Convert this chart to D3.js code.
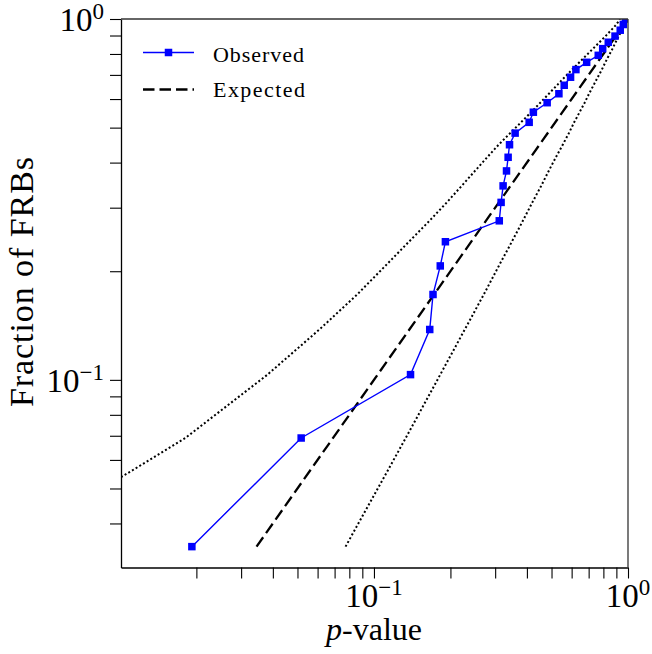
<!DOCTYPE html>
<html>
<head>
<meta charset="utf-8">
<script src="https://cdnjs.cloudflare.com/ajax/libs/d3/7.8.5/d3.min.js"></script>
<style>
  body { margin: 0; background: #fff; }
  text { font-family: "Liberation Serif", "DejaVu Serif", serif; fill: #000; }
</style>
</head>
<body>
<div id="chart"></div>
<script>
// Data: fraction of FRBs (rank / 29) vs p-value
var fractions = [0.0345, 0.069, 0.1034, 0.1379, 0.1724, 0.2069, 0.2414, 0.2759, 0.3103, 0.3448,
  0.3793, 0.4138, 0.4483, 0.4828, 0.5172, 0.5517, 0.5862, 0.6207, 0.6552, 0.6897,
  0.7241, 0.7586, 0.7931, 0.8276, 0.8621, 0.8966, 0.931, 0.9655, 1.0];

var observedP = [0.0192, 0.0517, 0.1393, 0.1658, 0.1708, 0.1824, 0.1911, 0.3114, 0.3166, 0.3224,
  0.3325, 0.3374, 0.3417, 0.3595, 0.4083, 0.4241, 0.4806, 0.5346, 0.561, 0.5942,
  0.6237, 0.6875, 0.7637, 0.795, 0.8362, 0.889, 0.932, 0.958, 0.977];

// dotted band, left (upper) edge
var bandLeft = [0.0036, 0.0181, 0.0381, 0.061, 0.0859, 0.1108, 0.1373, 0.1654, 0.1936, 0.2215,
  0.2498, 0.2791, 0.3095, 0.3438, 0.3793, 0.4156, 0.4516, 0.4882, 0.5254, 0.563,
  0.6026, 0.6437, 0.6855, 0.7284, 0.7721, 0.816, 0.858, 0.9, 0.93];

// dotted band, right (lower) edge
var bandRight = [0.0773, 0.1334, 0.1824, 0.2278, 0.2706, 0.3101, 0.3489, 0.3856, 0.4202, 0.4553,
  0.4874, 0.5201, 0.5534, 0.5853, 0.6138, 0.6449, 0.6751, 0.7025, 0.7318, 0.7603,
  0.789, 0.8145, 0.8415, 0.8696, 0.8935, 0.9199, 0.9469, 0.9731, 1.0];

var expectedX = [0.0345, 1];
var expectedY = [0.0345, 1];

var xTicks = [0.02, 0.03, 0.04, 0.05, 0.06, 0.07, 0.08, 0.09, 0.1, 0.2, 0.3, 0.4, 0.5, 0.6, 0.7, 0.8, 0.9, 1];
var yTicks = [0.04, 0.05, 0.06, 0.07, 0.08, 0.09, 0.1, 0.2, 0.3, 0.4, 0.5, 0.6, 0.7, 0.8, 0.9, 1];
var xLabels = [{ v: 0.1, exp: "\u22121" }, { v: 1, exp: "0" }];
var yLabels = [{ v: 0.1, exp: "\u22121" }, { v: 1, exp: "0" }];

function powerLabel(g, x, y, exp, anchor) {
  var t = g.append("text")
    .attr("x", x)
    .attr("y", y)
    .attr("text-anchor", anchor)
    .style("font-size", "33px");
  t.append("tspan").text("10");
  t.append("tspan")
    .attr("dy", -12)
    .style("font-size", "23px")
    .text(exp);
}

function drawSvg() {
  var width = 652;
  var height = 654;
  var left = 121, right = 628, top = 19, bottom = 567.5;

  var xScale = d3.scaleLog()
    .domain([0.0101, 1])
    .range([left, right]);

  var yScale = d3.scaleLog()
    .domain([0.0302, 1])
    .range([bottom, top]);

  var svg = d3.select("#chart")
    .append("svg")
    .attr("width", width)
    .attr("height", height);

  svg.append("clipPath")
    .attr("id", "plot-clip")
    .append("rect")
    .attr("x", left)
    .attr("y", top)
    .attr("width", right - left)
    .attr("height", bottom - top);

  var plot = svg.append("g").attr("clip-path", "url(#plot-clip)");

  var line = d3.line()
    .x(d => xScale(d[0]))
    .y(d => yScale(d[1]));

  // confidence band (dotted)
  [bandLeft, bandRight].forEach(function(band) {
    plot.append("path")
      .datum(band.map((p, i) => [p, fractions[i]]))
      .attr("d", line)
      .attr("fill", "none")
      .attr("stroke", "#000")
      .attr("stroke-width", 2)
      .attr("stroke-dasharray", "2,2.3");
  });

  // expected
  plot.append("path")
    .datum(expectedX.map((p, i) => [p, expectedY[i]]))
    .attr("d", line)
    .attr("fill", "none")
    .attr("stroke", "#000")
    .attr("stroke-width", 2.3)
    .attr("stroke-dasharray", "11.5,5");

  // observed
  var observed = observedP.map((p, i) => [p, fractions[i]]);
  plot.append("path")
    .datum(observed)
    .attr("d", line)
    .attr("fill", "none")
    .attr("stroke", "#0000ff")
    .attr("stroke-width", 1.4);

  plot.selectAll("rect.obs")
    .data(observed)
    .enter()
    .append("rect")
    .attr("class", "obs")
    .attr("x", d => xScale(d[0]) - 3.75)
    .attr("y", d => yScale(d[1]) - 3.75)
    .attr("width", 7.5)
    .attr("height", 7.5)
    .attr("fill", "#0000ff");

  // axes
  var xAxis = d3.axisBottom(xScale)
    .tickValues(xTicks)
    .tickFormat("")
    .tickSize(11)
    .tickSizeOuter(0);
  var yAxis = d3.axisLeft(yScale)
    .tickValues(yTicks)
    .tickFormat("")
    .tickSize(11)
    .tickSizeOuter(0);

  var gx = svg.append("g")
    .attr("transform", "translate(0," + bottom + ")")
    .call(xAxis);
  var gy = svg.append("g")
    .attr("transform", "translate(" + left + ",0)")
    .call(yAxis);

  [gx, gy].forEach(function(g) {
    g.select(".domain").attr("stroke", "#000").attr("stroke-width", 1.3);
    g.selectAll(".tick line").attr("stroke", "#000").attr("stroke-width", 1.1);
  });

  // top and right spines
  svg.append("line")
    .attr("x1", left).attr("x2", right)
    .attr("y1", top).attr("y2", top)
    .attr("stroke", "#333").attr("stroke-width", 1.3);
  svg.append("line")
    .attr("x1", right).attr("x2", right)
    .attr("y1", top).attr("y2", bottom)
    .attr("stroke", "#333").attr("stroke-width", 1.3);

  xLabels.forEach(function(l) {
    powerLabel(svg, xScale(l.v), bottom + 39, l.exp, "middle");
  });
  yLabels.forEach(function(l) {
    powerLabel(svg, 104, yScale(l.v) + 12, l.exp, "end");
  });

  // axis titles
  var xt = svg.append("text")
    .attr("x", 374)
    .attr("y", 640)
    .attr("text-anchor", "middle")
    .style("font-size", "32px");
  xt.append("tspan").style("font-style", "italic").text("p");
  xt.append("tspan").text("-value");

  svg.append("text")
    .attr("transform", "translate(33,282) rotate(-90)")
    .attr("text-anchor", "middle")
    .attr("textLength", 250)
    .attr("lengthAdjust", "spacing")
    .style("font-size", "34px")
    .text("Fraction of FRBs");

  // legend
  var legend = svg.append("g");
  legend.append("line")
    .attr("x1", 143).attr("x2", 194)
    .attr("y1", 52.5).attr("y2", 52.5)
    .attr("stroke", "#0000ff").attr("stroke-width", 1.4);
  legend.append("rect")
    .attr("x", 168.5 - 3.75).attr("y", 52.5 - 3.75)
    .attr("width", 7.5).attr("height", 7.5)
    .attr("fill", "#0000ff");
  legend.append("text")
    .attr("x", 213).attr("y", 62)
    .attr("textLength", 91)
    .attr("lengthAdjust", "spacing")
    .style("font-size", "22px")
    .text("Observed");

  legend.append("line")
    .attr("x1", 143).attr("x2", 194)
    .attr("y1", 89.5).attr("y2", 89.5)
    .attr("stroke", "#000").attr("stroke-width", 2.3)
    .attr("stroke-dasharray", "11.5,5");
  legend.append("text")
    .attr("x", 213).attr("y", 97)
    .attr("textLength", 92)
    .attr("lengthAdjust", "spacing")
    .style("font-size", "22px")
    .text("Expected");
}

drawSvg();
</script>
</body>
</html>
